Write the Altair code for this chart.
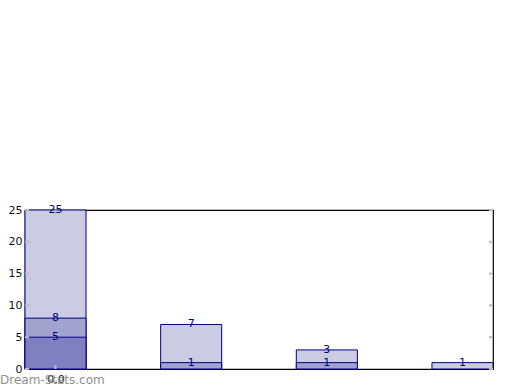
import altair as alt
import pandas as pd

# Data
groups = [0, 1, 2, 3]
level0 = [25, 7, 3, 1]
level1 = [8, 1, 1, None]
level2 = [5, None, None, None]
y_ticks = [0, 5, 10, 15, 20, 25]
x_ticks = [0]
x_tick_labels = ["0.0"]
fill_colors = ["#cbcbe4", "#a2a2cf", "#8080c0"]

rows = []
for lvl, vals in enumerate([level0, level1, level2]):
    for g, v in zip(groups, vals):
        if v is not None:
            rows.append({"g": g, "v": v, "lvl": lvl})
df = pd.DataFrame(rows)

W, H = 468, 159
half = 0.225
xscale = alt.Scale(domain=[-half, 3 + half], nice=False, zero=False)
yscale = alt.Scale(domain=[0, 25], nice=False)

xaxis = alt.Axis(values=x_ticks, labelExpr="'" + x_tick_labels[0] + "'",
                 title=None, domain=False, ticks=False, grid=False,
                 labelPadding=4, labelFontSize=11, labelColor="#111",
                 labelFont="DejaVu Sans")
yaxis = alt.Axis(values=y_ticks, title=None, domain=False, ticks=False,
                 grid=False, labelPadding=3, labelFontSize=11,
                 labelOverlap=False, labelFlush=False,
                 labelColor="#111", labelFont="DejaVu Sans")

base = alt.Chart(df).transform_calculate(lo=f"datum.g - {half}", hi=f"datum.g + {half}")

bar_layers = []
for lvl in range(3):
    bar_layers.append(
        base.transform_filter(f"datum.lvl == {lvl}").mark_bar(
            fill=fill_colors[lvl], stroke="#000080", strokeWidth=1, opacity=1
        ).encode(
            x=alt.X("lo:Q", scale=xscale, axis=xaxis),
            x2="hi:Q",
            y=alt.Y("v:Q", scale=yscale, stack=None, axis=yaxis),
            y2=alt.datum(0),
        )
    )

labels = alt.Chart(df).mark_text(
    color="#000080", fontSize=11, font="DejaVu Sans", baseline="middle", align="center"
).encode(
    x=alt.X("g:Q", scale=xscale, axis=xaxis),
    y=alt.Y("v:Q", scale=yscale, axis=yaxis),
    text=alt.Text("v:Q", format="d"),
)

ytick_df = pd.DataFrame({"t": y_ticks})
ytl = alt.Chart(ytick_df).mark_rule(color="#bbbbbb", strokeWidth=2).encode(
    y=alt.Y("t:Q", scale=yscale, axis=yaxis), x=alt.value(0), x2=alt.value(4))
ytr = alt.Chart(ytick_df).mark_rule(color="#bbbbbb", strokeWidth=2).encode(
    y=alt.Y("t:Q", scale=yscale, axis=yaxis), x=alt.value(W - 4), x2=alt.value(W))

xtick_df = pd.DataFrame({"t": x_ticks})
xtb = alt.Chart(xtick_df).mark_rule(color="#bbbbbb", strokeWidth=2).encode(
    x=alt.X("t:Q", scale=xscale, axis=xaxis), y=alt.value(H - 4), y2=alt.value(H))
xtt = alt.Chart(xtick_df).mark_rule(color="#bbbbbb", strokeWidth=2).encode(
    x=alt.X("t:Q", scale=xscale, axis=xaxis), y=alt.value(0), y2=alt.value(4))

watermark = alt.Chart(pd.DataFrame({"s": ["Dream-Stats.com"]})).mark_text(
    color="#8f8f8f", fontSize=12, font="DejaVu Sans",
    align="left", baseline="middle"
).encode(text="s:N", x=alt.value(-25), y=alt.value(H + 11))

chart = alt.layer(*bar_layers, ytl, ytr, xtb, xtt, labels, watermark).properties(
    width=W, height=H,
    autosize=alt.AutoSizeParams(type="none"),
    padding={"left": 25, "top": 210, "right": 27, "bottom": 21},
    background="white",
).configure_view(stroke="#000000", strokeWidth=1.2)

chart.save("out.html", embed_options={"renderer": "svg", "actions": False})
